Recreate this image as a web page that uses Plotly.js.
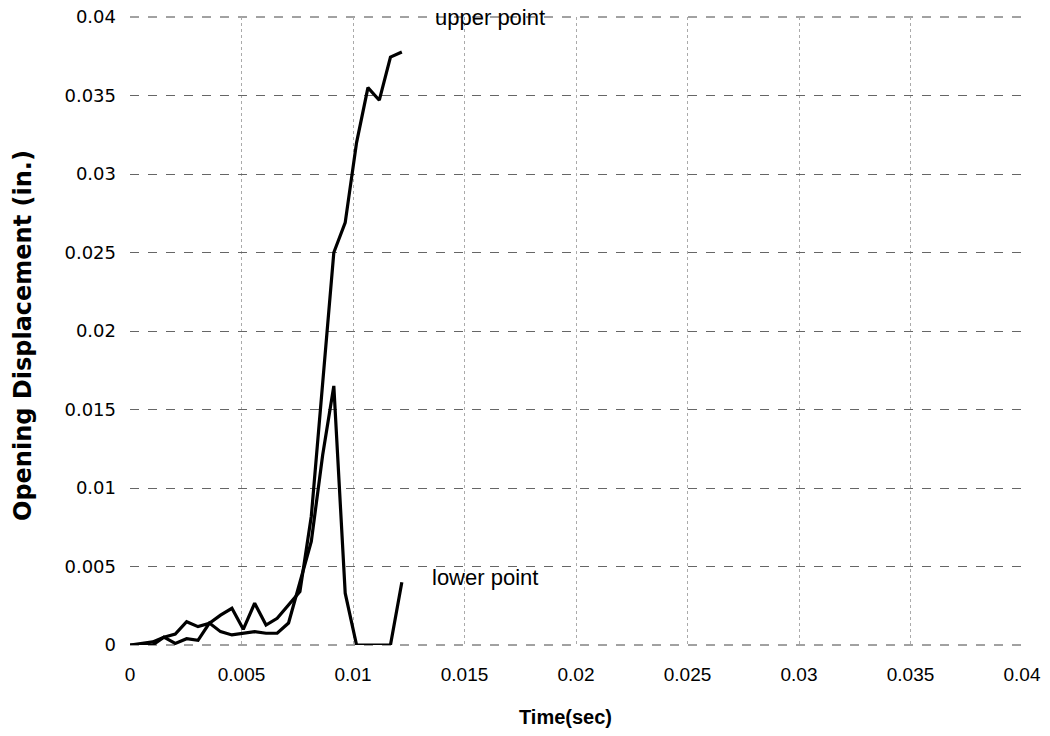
<!DOCTYPE html>
<html>
<head>
<meta charset="utf-8">
<script src="https://cdn.plot.ly/plotly-3.0.1.min.js"></script>
<style>html,body{margin:0;padding:0;background:#fff;}#chart{width:1050px;height:736px;}</style>
</head>
<body>
<div id="chart"></div>
<script>
// Time (sec)
var time = [0, 0.00051, 0.00102, 0.00152, 0.00203, 0.00254, 0.00305, 0.00356, 0.00406, 0.00457,
            0.00508, 0.00559, 0.0061, 0.0066, 0.00711, 0.00762, 0.00813, 0.00864, 0.00914, 0.00965,
            0.01016, 0.01067, 0.01118, 0.01168, 0.01219];
// Opening displacement (in.) at the upper point
var upperPoint = [0, 0.0001, 0.0002, 0.0005, 0.0007, 0.00148, 0.00117, 0.00138, 0.0019, 0.00234,
                  0.001, 0.00266, 0.00127, 0.0017, 0.00255, 0.0034, 0.0082, 0.0165, 0.025, 0.0269,
                  0.032, 0.0355, 0.0347, 0.03745, 0.03777];
// Opening displacement (in.) at the lower point
var lowerPoint = [0, 0, 0, 0.0005, 0.0001, 0.0004, 0.0003, 0.0014, 0.00085, 0.00064,
                  0.00075, 0.00085, 0.00075, 0.00075, 0.0014, 0.004, 0.0066, 0.0121, 0.0165, 0.0033,
                  0, 0, 0, 0, 0.004];
var seriesLabels = ["upper point", "lower point"];
var tickVals = [0, 0.005, 0.01, 0.015, 0.02, 0.025, 0.03, 0.035, 0.04];

var lineStyle = {color: '#000', width: 3.2};
var traces = [
  {x: time, y: upperPoint, mode: 'lines', name: seriesLabels[0], line: lineStyle},
  {x: time, y: lowerPoint, mode: 'lines', name: seriesLabels[1], line: lineStyle}
];

var layout = {
  width: 1050, height: 736,
  margin: {l: 130, r: 28, t: 17, b: 91},
  paper_bgcolor: '#fff', plot_bgcolor: '#fff',
  showlegend: false,
  font: {family: 'Liberation Sans, Arial, sans-serif', color: '#000'},
  xaxis: {
    range: [0, 0.04], tickvals: tickVals, ticktext: tickVals.map(String),
    showgrid: true, gridcolor: '#aaa', griddash: 'dot', gridwidth: 1,
    zeroline: false, showline: false, ticks: '',
    ticklabelstandoff: 16,
    tickfont: {family: 'Liberation Sans, Arial, sans-serif', size: 19}
  },
  yaxis: {
    range: [0, 0.04], tickvals: tickVals, ticktext: tickVals.map(String),
    showgrid: true, gridcolor: '#666', griddash: 'dash', gridwidth: 1,
    zeroline: false, showline: false, ticks: '',
    ticklabelstandoff: 13,
    tickfont: {family: 'DejaVu Sans, sans-serif', size: 18}
  },
  annotations: [
    {x: 0.01359, y: 0.0400, xref: 'x', yref: 'y', text: seriesLabels[0], showarrow: false,
     xanchor: 'left', yanchor: 'middle', font: {size: 22}},
    {x: 0.01345, y: 0.00427, xref: 'x', yref: 'y', text: seriesLabels[1], showarrow: false,
     xanchor: 'left', yanchor: 'middle', font: {size: 22}},
    {x: 565, y: 717, xref: 'paper', yref: 'paper', text: '<b>Time(sec)</b>', showarrow: false,
     xanchor: 'center', yanchor: 'middle', font: {size: 20}},
    {x: 23, y: 336, xref: 'paper', yref: 'paper', text: '<b>Opening Displacement (in.)</b>', showarrow: false,
     xanchor: 'center', yanchor: 'middle', textangle: -90,
     font: {family: 'DejaVu Sans, sans-serif', size: 24}}
  ],
  shapes: [
    {type: 'line', xref: 'paper', yref: 'paper', x0: 0, x1: 1, y0: 0, y1: 0,
     line: {color: '#444', width: 1, dash: 'dash'}, layer: 'below'},
    {type: 'line', xref: 'paper', yref: 'paper', x0: 0, x1: 1, y0: 1, y1: 1,
     line: {color: '#444', width: 1, dash: 'dash'}, layer: 'below'}
  ]
};

// convert pixel positions for the title annotations into paper coordinates
var plotW = 1050 - 130 - 28, plotH = 736 - 17 - 91;
layout.annotations[2].x = (565 - 130) / plotW;
layout.annotations[2].y = (736 - 91 - 717) / plotH;
layout.annotations[3].x = (23 - 130) / plotW;
layout.annotations[3].y = (736 - 91 - 336) / plotH;

Plotly.newPlot('chart', traces, layout, {displayModeBar: false, staticPlot: true});
</script>
</body>
</html>
